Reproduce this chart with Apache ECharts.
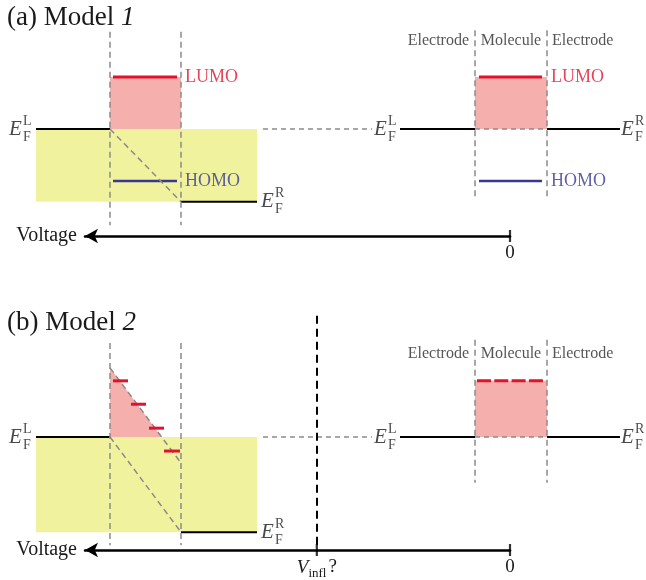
<!DOCTYPE html>
<html><head><meta charset="utf-8">
<script src="https://cdn.jsdelivr.net/npm/echarts@6/dist/echarts.min.js"></script>
<style>html,body{margin:0;padding:0;background:#fff}#c{width:646px;height:580px}</style>
</head><body><div id="c"></div>
<script>
// ---------------- Data (energies relative to the left Fermi level, schematic units) ----------------
// order: [E_F^L, LUMO, HOMO, E_F^R]
const model1Biased   = [0, 1.0, -1.0, -1.4];
const model1ZeroBias = [0, 1.0, -1.0, 0];
// order: [E_F^L, LUMO top at left contact, E_F^R]
const model2Biased   = [0, 1.33, -1.83];
const model2States   = [1.08, 0.63, 0.17, -0.27];
// order: [E_F^L, LUMO, E_F^R]
const model2ZeroBias = [0, 1.08, 0];
const voltageTicks   = [0, 2];          // 0 and V_infl
const regionLabels   = ['Electrode', 'Molecule', 'Electrode'];
const levelLabels    = ['LUMO', 'HOMO'];
const panelTitles    = ['(a) Model ', '(b) Model '];
const panelNumbers   = ['1', '2'];

// ---------------- Layout (positions on the hidden position axis) ----------------
const LAY = {
  elecL: [36, 110], mol: [110, 181], elecR: [181, 257],
  lvl: [113, 177], states: [[113, 128], [131, 146], [149, 164], [164, 180]],
  rElecL: [400, 475], rMol: [475, 547], rElecR: [547, 620], rLvl: [479, 542], rLvlB: [477, 543],
  connector: [263, 372], vinflX: 317,
  lvlLabelX: 185, rLvlLabelX: 551,
  regionX: [469, 511, 552],
  efX: { aL: 9, aR: 261, rL: 374, rR: 621 },
  vertA: [1.87, -1.85], rVertA: [1.9, -1.33], regionYA: 1.69,
  vertB: [1.81, -2.08], rVertB: [1.87, -0.88], regionYB: 1.6, vinflY: [2.33, -2.21]
};

const SERIF = '"Liberation Serif", "Times New Roman", serif';
const GRAY = '#8a8a8a', RED = '#e2122c', BLUE = '#383893', PINK = '#f5b0ad', YELLOW = '#f0f29e', TXT = '#1a1a1a', TXT2 = '#2a2a2a';

const series = [];
function seg(g, pts, color, width, dash, z) {
  series.push({ type: 'line', xAxisIndex: g, yAxisIndex: g, data: pts, symbol: 'none', silent: true,
    clip: false, lineStyle: { color: color, width: width, type: dash || 'solid', cap: 'butt' }, z: z || 3 });
}
function polys(g, list) {
  series.push({ type: 'custom', xAxisIndex: g, yAxisIndex: g, silent: true, clip: false, z: 1,
    data: list.map((p, i) => [i, 0]),
    renderItem: function (params, api) {
      const p = list[params.dataIndex];
      return { type: 'polygon', shape: { points: p.pts.map(q => api.coord(q)) }, style: { fill: p.color } };
    } });
}
const labelItems = [[], []];
function txt(g, x, y, text, st) {
  labelItems[g].push({ value: [x, y], label: Object.assign({ show: true, position: 'inside', formatter: () => text,
    fontFamily: SERIF, color: TXT, verticalAlign: 'middle', align: 'left' }, st) });
}
function ef(g, x, y, sup) {
  txt(g, x, y, 'E', { fontStyle: 'italic', fontSize: 21 });
  txt(g, x, y, 'F', { fontSize: 14, offset: [14, 8] });
  txt(g, x, y, sup, { fontSize: 14, offset: [14, -8] });
}
const dashG = [5, 4];

// ---------------- Panel (a) ----------------
(function () {
  const g = 0, [EFL, LUMO, HOMO, EFR] = model1Biased, [zL, zLUMO, zHOMO, zR] = model1ZeroBias;
  polys(g, [
    { color: YELLOW, pts: [[LAY.elecL[0], EFL], [LAY.elecR[1], EFL], [LAY.elecR[1], EFR], [LAY.elecL[0], EFR]] },
    { color: PINK, pts: [[LAY.mol[0], LUMO], [LAY.mol[1], LUMO], [LAY.mol[1], EFL], [LAY.mol[0], EFL]] },
    { color: PINK, pts: [[LAY.rMol[0], zLUMO], [LAY.rMol[1], zLUMO], [LAY.rMol[1], zL], [LAY.rMol[0], zL]] }
  ]);
  seg(g, [[LAY.elecL[0], EFL], [LAY.elecL[1], EFL]], '#000', 2);
  seg(g, [[LAY.elecR[0], EFR], [LAY.elecR[1], EFR]], '#000', 2);
  seg(g, [[LAY.lvl[0], LUMO], [LAY.lvl[1], LUMO]], RED, 3);
  seg(g, [[LAY.lvl[0], HOMO], [LAY.lvl[1], HOMO]], BLUE, 2.5);
  seg(g, [[LAY.mol[0], EFL], [LAY.mol[1], EFR]], GRAY, 1.5, [6, 4]);
  seg(g, [[LAY.mol[0], LAY.vertA[0]], [LAY.mol[0], LAY.vertA[1]]], GRAY, 1.5, [6, 4]);
  seg(g, [[LAY.mol[1], LAY.vertA[0]], [LAY.mol[1], LAY.vertA[1]]], GRAY, 1.5, [6, 4]);
  seg(g, [[LAY.connector[0], EFL], [LAY.connector[1], EFL]], GRAY, 1.3, dashG);
  // zero bias
  seg(g, [[LAY.rElecL[0], zL], [LAY.rElecL[1], zL]], '#000', 2);
  seg(g, [[LAY.rElecR[0], zR], [LAY.rElecR[1], zR]], '#000', 2);
  seg(g, [[LAY.rLvl[0], zLUMO], [LAY.rLvl[1], zLUMO]], RED, 3);
  seg(g, [[LAY.rLvl[0], zHOMO], [LAY.rLvl[1], zHOMO]], BLUE, 2.5);
  seg(g, [[LAY.rMol[0], zL], [LAY.rMol[1], zL]], GRAY, 1.3, dashG);
  seg(g, [[LAY.rMol[0], LAY.rVertA[0]], [LAY.rMol[0], LAY.rVertA[1]]], GRAY, 1.5, [6, 4]);
  seg(g, [[LAY.rMol[1], LAY.rVertA[0]], [LAY.rMol[1], LAY.rVertA[1]]], GRAY, 1.5, [6, 4]);
  // labels
  txt(g, LAY.lvlLabelX, LUMO, levelLabels[0], { fontSize: 18, color: RED });
  txt(g, LAY.lvlLabelX, HOMO, levelLabels[1], { fontSize: 18, color: BLUE });
  txt(g, LAY.rLvlLabelX, zLUMO, levelLabels[0], { fontSize: 18, color: RED });
  txt(g, LAY.rLvlLabelX, zHOMO, levelLabels[1], { fontSize: 18, color: BLUE });
  txt(g, LAY.regionX[0], LAY.regionYA, regionLabels[0], { fontSize: 16, color: TXT2, align: 'right' });
  txt(g, LAY.regionX[1], LAY.regionYA, regionLabels[1], { fontSize: 16, color: TXT2, align: 'center' });
  txt(g, LAY.regionX[2], LAY.regionYA, regionLabels[2], { fontSize: 16, color: TXT2, align: 'left' });
  ef(g, LAY.efX.aL, EFL, 'L');
  ef(g, LAY.efX.aR, EFR, 'R');
  ef(g, LAY.efX.rL, zL, 'L');
  ef(g, LAY.efX.rR, zR, 'R');
})();

// ---------------- Panel (b) ----------------
(function () {
  const g = 1, [EFL, TOP, EFR] = model2Biased, [zL, zLUMO, zR] = model2ZeroBias;
  const bottomOfBand = TOP + EFR;
  const x0 = LAY.mol[0] + (LAY.mol[1] - LAY.mol[0]) * (TOP - EFL) / (TOP - bottomOfBand);
  polys(g, [
    { color: YELLOW, pts: [[LAY.elecL[0], EFL], [LAY.elecR[1], EFL], [LAY.elecR[1], EFR], [LAY.elecL[0], EFR]] },
    { color: PINK, pts: [[LAY.mol[0], TOP], [LAY.mol[0], EFL], [x0, EFL]] },
    { color: PINK, pts: [[LAY.rMol[0], zLUMO], [LAY.rMol[1], zLUMO], [LAY.rMol[1], zL], [LAY.rMol[0], zL]] }
  ]);
  seg(g, [[LAY.elecL[0], EFL], [LAY.elecL[1], EFL]], '#000', 2);
  seg(g, [[LAY.elecR[0], EFR], [LAY.elecR[1], EFR]], '#000', 2);
  seg(g, [[LAY.mol[0], TOP], [LAY.mol[1], bottomOfBand]], GRAY, 1.5, [6, 4]);
  seg(g, [[LAY.mol[0], EFL], [LAY.mol[1], EFR]], GRAY, 1.5, [6, 4]);
  seg(g, [[LAY.mol[0], LAY.vertB[0]], [LAY.mol[0], LAY.vertB[1]]], GRAY, 1.5, [6, 4]);
  seg(g, [[LAY.mol[1], LAY.vertB[0]], [LAY.mol[1], LAY.vertB[1]]], GRAY, 1.5, [6, 4]);
  model2States.forEach((e, i) => seg(g, [[LAY.states[i][0], e], [LAY.states[i][1], e]], RED, 3, null, 4));
  seg(g, [[LAY.connector[0], EFL], [LAY.connector[1], EFL]], GRAY, 1.3, dashG);
  seg(g, [[LAY.vinflX, LAY.vinflY[0]], [LAY.vinflX, LAY.vinflY[1]]], '#000', 2, [8, 5]);
  // zero bias
  seg(g, [[LAY.rElecL[0], zL], [LAY.rElecL[1], zL]], '#000', 2);
  seg(g, [[LAY.rElecR[0], zR], [LAY.rElecR[1], zR]], '#000', 2);
  seg(g, [[LAY.rLvlB[0], zLUMO], [LAY.rLvlB[1], zLUMO]], RED, 3, [14, 3.3], 4);
  seg(g, [[LAY.rMol[0], zL], [LAY.rMol[1], zL]], GRAY, 1.3, dashG);
  seg(g, [[LAY.rMol[0], LAY.rVertB[0]], [LAY.rMol[0], LAY.rVertB[1]]], GRAY, 1.5, [6, 4]);
  seg(g, [[LAY.rMol[1], LAY.rVertB[0]], [LAY.rMol[1], LAY.rVertB[1]]], GRAY, 1.5, [6, 4]);
  txt(g, LAY.regionX[0], LAY.regionYB, regionLabels[0], { fontSize: 16, color: TXT2, align: 'right' });
  txt(g, LAY.regionX[1], LAY.regionYB, regionLabels[1], { fontSize: 16, color: TXT2, align: 'center' });
  txt(g, LAY.regionX[2], LAY.regionYB, regionLabels[2], { fontSize: 16, color: TXT2, align: 'left' });
  ef(g, LAY.efX.aL, EFL, 'L');
  ef(g, LAY.efX.aR, EFR, 'R');
  ef(g, LAY.efX.rL, zL, 'L');
  ef(g, LAY.efX.rR, zR, 'R');
})();

[0, 1].forEach(g => series.push({ type: 'scatter', xAxisIndex: g, yAxisIndex: g, symbolSize: 1, silent: true,
  itemStyle: { color: 'rgba(0,0,0,0)' }, data: labelItems[g], z: 10 }));

// voltage ticks (crossing the arrow line)
[2, 3].forEach((g, k) => series.push({ type: 'scatter', xAxisIndex: g, yAxisIndex: g, silent: true, symbol: 'rect',
  symbolSize: [2.2, 12], itemStyle: { color: '#000' }, data: (k === 0 ? voltageTicks.slice(0, 1) : voltageTicks).map(v => [v, 0]), z: 10 }));

function voltAxis(g, withInfl) {
  return { type: 'value', gridIndex: g, min: 0, max: 4.4, interval: 2, inverse: true, position: 'bottom',
    name: 'Voltage', nameLocation: 'end', nameGap: 8,
    nameTextStyle: { fontFamily: SERIF, fontSize: 20, color: TXT, padding: [3, 0, 0, 0] },
    axisLine: { show: true, onZero: false, symbol: ['arrow', 'none'], symbolSize: [11, 13],
      lineStyle: { color: '#000', width: 2.5 } },
    axisTick: { show: false }, splitLine: { show: false },
    axisLabel: { show: true, margin: 8, fontFamily: SERIF, fontSize: 19, color: TXT, showMaxLabel: false,
      formatter: function (v) {
        if (v === voltageTicks[0]) return '0';
        if (withInfl && v === voltageTicks[1]) return '{v|V}{s|infl}{q|?}';
        return '';
      },
      rich: {
        v: { fontFamily: SERIF, fontStyle: 'italic', fontSize: 19, color: TXT, lineHeight: 22, verticalAlign: 'top' },
        s: { fontFamily: SERIF, fontSize: 13, color: TXT, lineHeight: 14, verticalAlign: 'bottom' },
        q: { fontFamily: SERIF, fontSize: 19, color: TXT, lineHeight: 22, verticalAlign: 'top', padding: [0, 0, 0, 2] }
      } } };
}
const hx = g => ({ type: 'value', gridIndex: g, min: 0, max: 646, show: false });
const hy = (g, a, b) => ({ type: 'value', gridIndex: g, min: a, max: b, show: false });

const titleRich = {
  n: { fontFamily: SERIF, fontSize: 27, color: TXT, fontWeight: 'normal' },
  i: { fontFamily: SERIF, fontSize: 27, color: TXT, fontWeight: 'normal', fontStyle: 'italic' }
};
const chart = echarts.init(document.getElementById('c'));
chart.setOption({
  animation: false,
  backgroundColor: '#fff',
  textStyle: { fontFamily: SERIF },
  title: [0, 1].map(k => ({ text: '{n|' + panelTitles[k] + '}{i|' + panelNumbers[k] + '}', left: 7, top: k === 0 ? 4 : 309, padding: 0,
    textStyle: { fontWeight: 'normal', fontSize: 27, fontFamily: SERIF, rich: titleRich } })),
  grid: [
    { left: 0, top: 25, width: 646, height: 260 },
    { left: 0, top: 281, width: 646, height: 286 },
    { left: 85, top: 226, width: 425, height: 10 },
    { left: 85, top: 541, width: 425, height: 10 }
  ],
  xAxis: [hx(0), hx(1), voltAxis(2, false), voltAxis(3, true)],
  yAxis: [hy(0, -3, 2), hy(1, -2.5, 3), hy(2, 0, 1), hy(3, 0, 1)],
  series: series
});
</script></body></html>
